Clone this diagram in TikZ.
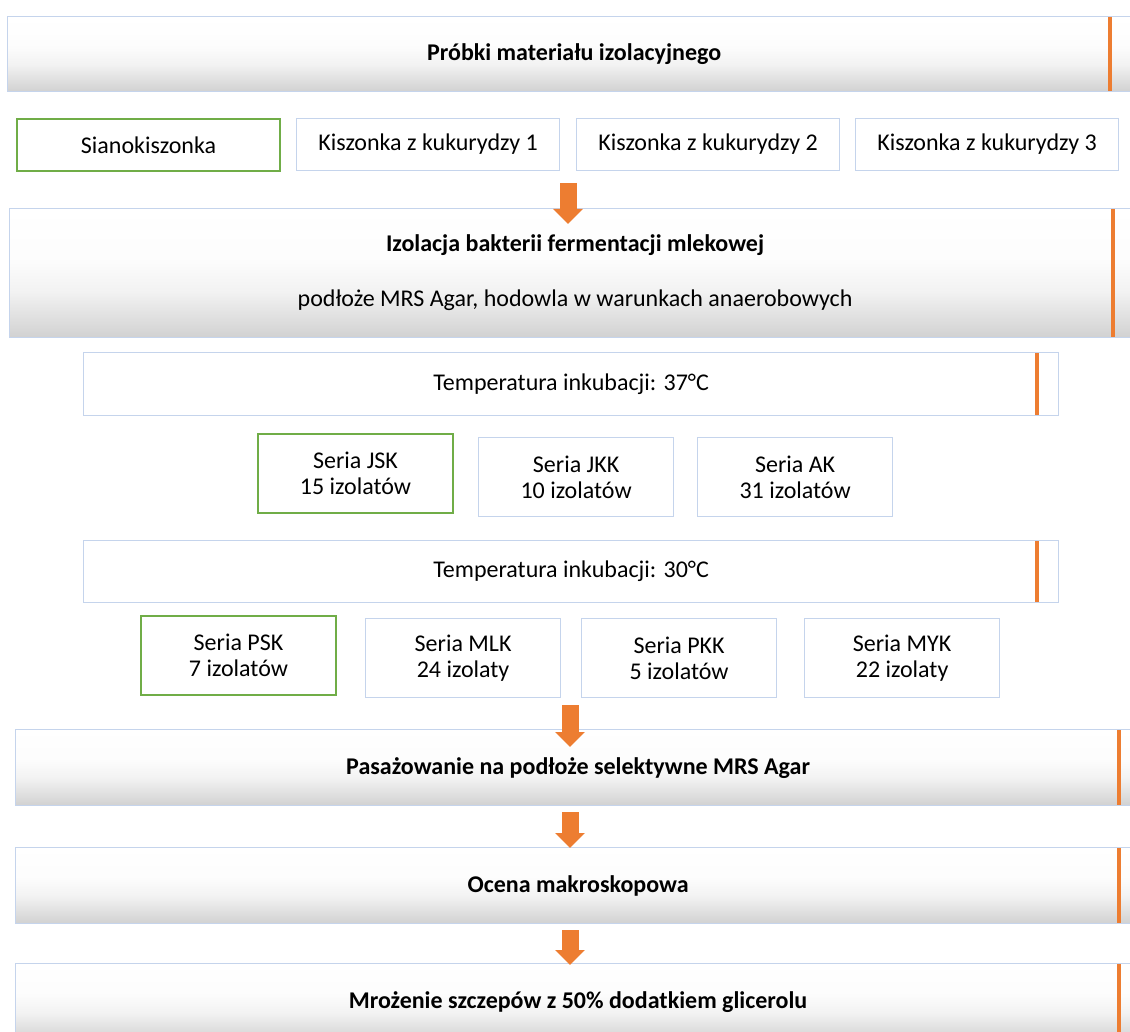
\documentclass[tikz,border=0pt]{standalone}
\usepackage{fontspec}
\setmainfont{Carlito}
\usetikzlibrary{arrows.meta,positioning}

\definecolor{barorange}{RGB}{237,125,49}
\definecolor{seriesgreen}{RGB}{112,173,71}
\definecolor{edgeblue}{RGB}{197,212,236}
\pgfdeclareverticalshading{stageshade}{100bp}{color(0bp)=(black!18); color(25bp)=(black!18); color(43bp)=(black!5); color(55bp)=(black!1); color(75bp)=(white); color(100bp)=(white)}

\begin{document}
\begin{tikzpicture}[x=1pt, y=-1pt]

% Fix the page to the size of the reference
\useasboundingbox (0,0) rectangle (1130,1032);

% Styles for the stages, the series boxes and the arrows
\tikzstyle{stage} = [draw=edgeblue, line width=1.2pt, shading=stageshade, anchor=north west, inner sep=0pt, align=center, font=\fontsize{24}{27}\selectfont\bfseries]
\tikzstyle{tempbox} = [draw=edgeblue, line width=1.2pt, fill=white, anchor=north west, inner sep=0pt, font=\fontsize{24}{27}\selectfont]
\tikzstyle{series} = [draw=edgeblue, line width=1.2pt, fill=white, anchor=north west, inner sep=0pt, align=center, minimum width=195pt, minimum height=79pt, font=\fontsize{24}{26}\selectfont]
\tikzstyle{sample} = [series, minimum width=263pt, minimum height=52pt]
\tikzstyle{first} = [draw=seriesgreen, line width=2pt]
\tikzstyle{bar} = [draw=barorange, line width=4pt]
\tikzstyle{flow} = [draw=barorange, line width=17pt, -{Triangle[width=29pt, length=15pt]}]

% Samples
\node[stage, minimum width=1133pt, minimum height=75pt] (probki) at (7,16) {Próbki materiału izolacyjnego};
\node[sample, first] (siano) at (16,118) {Sianokiszonka};
\node[sample] (kuk1) at (296,118) {Kiszonka z kukurydzy 1};
\node[sample] (kuk2) at (576,118) {Kiszonka z kukurydzy 2};
\node[sample] (kuk3) at (855,118) {Kiszonka z kukurydzy 3};

% Isolation
\node[stage, minimum width=1131pt, minimum height=129pt] (izolacja) at (9,208)
    {Izolacja bakterii fermentacji mlekowej\\[28pt]\mdseries podłoże MRS Agar, hodowla w warunkach anaerobowych};

% Incubation at 37 C
\node[tempbox, minimum width=975pt, minimum height=63pt] (temp37) at (83,352) {Temperatura inkubacji: 37°C};
\node[series, first] (jsk) at (257,433) {Seria JSK\\15 izolatów};
\node[series] (jkk) at (478,437) {Seria JKK\\10 izolatów};
\node[series] (ak) at (697,437) {Seria AK\\31 izolatów};

% Incubation at 30 C
\node[tempbox, minimum width=975pt, minimum height=62pt] (temp30) at (83,540) {Temperatura inkubacji: 30°C};
\node[series, first] (psk) at (140,615) {Seria PSK\\7 izolatów};
\node[series] (mlk) at (365,618) {Seria MLK\\24 izolaty};
\node[series] (pkk) at (581,618) {Seria PKK\\5 izolatów};
\node[series] (myk) at (804,618) {Seria MYK\\22 izolaty};

% Further steps
\node[stage, minimum width=1125pt, minimum height=76pt] (pasaz) at (15,729) {Pasażowanie na podłoże selektywne MRS Agar};
\node[stage, minimum width=1125pt, minimum height=76pt] (ocena) at (15,847) {Ocena makroskopowa};
\node[stage, minimum width=1125pt, minimum height=77pt] (mrozenie) at (15,963) {Mrożenie szczepów z 50\% dodatkiem glicerolu};

% Orange marks on the right
\draw[bar] ([xshift=-31pt,yshift=-1pt]probki.north east) -- ([xshift=-31pt,yshift=1pt]probki.south east);
\draw[bar] ([xshift=-28pt,yshift=-1pt]izolacja.north east) -- ([xshift=-28pt,yshift=1pt]izolacja.south east);
\draw[bar] ([xshift=-22pt,yshift=-1pt]temp37.north east) -- ([xshift=-22pt,yshift=1pt]temp37.south east);
\draw[bar] ([xshift=-22pt,yshift=-1pt]temp30.north east) -- ([xshift=-22pt,yshift=1pt]temp30.south east);
\draw[bar] ([xshift=-22pt,yshift=-1pt]pasaz.north east) -- ([xshift=-22pt,yshift=1pt]pasaz.south east);
\draw[bar] ([xshift=-22pt,yshift=-1pt]ocena.north east) -- ([xshift=-22pt,yshift=1pt]ocena.south east);
\draw[bar] ([xshift=-22pt,yshift=-1pt]mrozenie.north east) -- ([xshift=-22pt,yshift=1pt]mrozenie.south east);

% Arrows between the steps
\coordinate (a1) at (568,183);
\coordinate (b1) at (568,224);
\coordinate (a2) at (570,705);
\coordinate (b2) at (570,747);
\coordinate (a3) at (570,812);
\coordinate (b3) at (570,848);
\coordinate (a4) at (570,930);
\coordinate (b4) at (570,965);
\draw[flow] (a1) -- (b1);
\draw[flow] (a2) -- (b2);
\draw[flow] (a3) -- (b3);
\draw[flow] (a4) -- (b4);

\end{tikzpicture}
\end{document}
